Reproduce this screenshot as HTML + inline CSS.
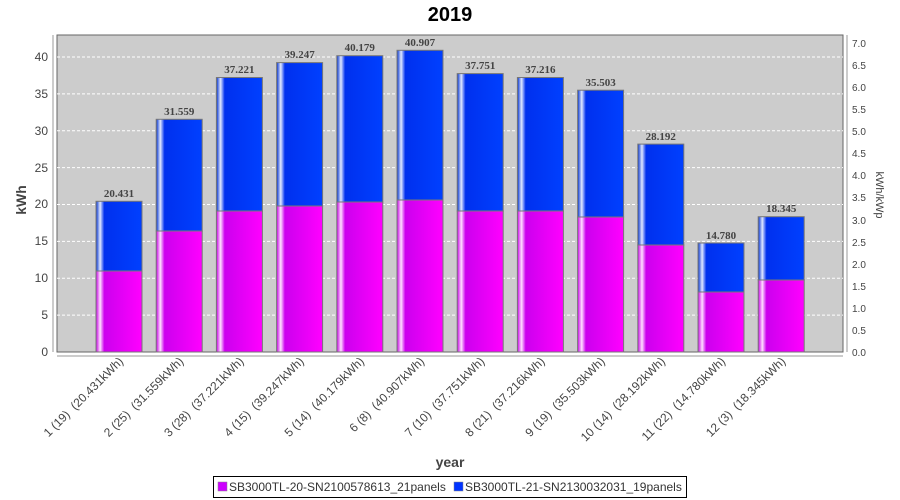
<!DOCTYPE html>
<html><head><style>body{margin:0;background:#fff}svg{display:block;font-family:"Liberation Sans",sans-serif}</style></head><body>
<svg width="900" height="500" xmlns="http://www.w3.org/2000/svg">
<defs>
<linearGradient id="m" x1="0" x2="1" y1="0" y2="0"><stop offset="0" stop-color="#c800e6"/><stop offset="0.09" stop-color="#ffe0ff"/><stop offset="0.18" stop-color="#cc00ee"/><stop offset="1" stop-color="#ff00ff"/></linearGradient>
<linearGradient id="b" x1="0" x2="1" y1="0" y2="0"><stop offset="0" stop-color="#0030d0"/><stop offset="0.09" stop-color="#e0e8ff"/><stop offset="0.18" stop-color="#0030ee"/><stop offset="1" stop-color="#0040ff"/></linearGradient>
</defs>
<text x="450" y="21" text-anchor="middle" font-size="20" font-weight="bold" fill="#000">2019</text>
<rect x="57" y="35" width="786" height="317" fill="#cccccc" stroke="#666" stroke-width="1"/>
<g stroke="#fff" stroke-dasharray="3,2" stroke-width="1">
<line x1="57" x2="843" y1="315.1" y2="315.1"/><line x1="57" x2="843" y1="278.25" y2="278.25"/><line x1="57" x2="843" y1="241.4" y2="241.4"/><line x1="57" x2="843" y1="204.5" y2="204.5"/><line x1="57" x2="843" y1="167.6" y2="167.6"/><line x1="57" x2="843" y1="130.75" y2="130.75"/><line x1="57" x2="843" y1="93.9" y2="93.9"/><line x1="57" x2="843" y1="57" y2="57"/>
</g>
<g stroke="#777" stroke-width="1">
<rect x="96" y="201.3" width="46" height="69.7" fill="url(#b)"/><rect x="96" y="271" width="46" height="81" fill="url(#m)"/>
<rect x="156.2" y="119.3" width="46" height="111.7" fill="url(#b)"/><rect x="156.2" y="231" width="46" height="121" fill="url(#m)"/>
<rect x="216.4" y="77.5" width="46" height="133.5" fill="url(#b)"/><rect x="216.4" y="211" width="46" height="141" fill="url(#m)"/>
<rect x="276.6" y="62.6" width="46" height="143.4" fill="url(#b)"/><rect x="276.6" y="206" width="46" height="146" fill="url(#m)"/>
<rect x="336.8" y="55.7" width="46" height="146.3" fill="url(#b)"/><rect x="336.8" y="202" width="46" height="150" fill="url(#m)"/>
<rect x="397" y="50.3" width="46" height="149.7" fill="url(#b)"/><rect x="397" y="200" width="46" height="152" fill="url(#m)"/>
<rect x="457.2" y="73.6" width="46" height="137.4" fill="url(#b)"/><rect x="457.2" y="211" width="46" height="141" fill="url(#m)"/>
<rect x="517.4" y="77.5" width="46" height="133.5" fill="url(#b)"/><rect x="517.4" y="211" width="46" height="141" fill="url(#m)"/>
<rect x="577.6" y="90.2" width="46" height="126.8" fill="url(#b)"/><rect x="577.6" y="217" width="46" height="135" fill="url(#m)"/>
<rect x="637.8" y="144.1" width="46" height="100.9" fill="url(#b)"/><rect x="637.8" y="245" width="46" height="107" fill="url(#m)"/>
<rect x="698" y="243" width="46" height="49" fill="url(#b)"/><rect x="698" y="292" width="46" height="60" fill="url(#m)"/>
<rect x="758.2" y="216.7" width="46" height="63.3" fill="url(#b)"/><rect x="758.2" y="280" width="46" height="72" fill="url(#m)"/>
</g>
<g font-family="Liberation Serif,serif" font-weight="bold" font-size="11" fill="#444" text-anchor="middle">
<text x="119" y="197">20.431</text><text x="179.2" y="115">31.559</text><text x="239.4" y="73">37.221</text><text x="299.6" y="58">39.247</text><text x="359.8" y="51">40.179</text><text x="420" y="46">40.907</text><text x="480.2" y="69">37.751</text><text x="540.4" y="73">37.216</text><text x="600.6" y="86">35.503</text><text x="660.8" y="140">28.192</text><text x="721" y="239">14.780</text><text x="781.2" y="212">18.345</text>
</g>
<g stroke="#999" stroke-width="1">
<line x1="53" x2="53" y1="35" y2="352"/>
<line x1="57" x2="843" y1="356" y2="356"/>
<line x1="847" x2="847" y1="35" y2="352"/>
</g>
<g font-size="12" fill="#444" text-anchor="end">
<text x="48" y="356">0</text><text x="48" y="319">5</text><text x="48" y="282">10</text><text x="48" y="245">15</text><text x="48" y="208">20</text><text x="48" y="172">25</text><text x="48" y="135">30</text><text x="48" y="98">35</text><text x="48" y="61">40</text>
</g>
<g font-size="10" fill="#444">
<text x="852" y="356">0.0</text><text x="852" y="334">0.5</text><text x="852" y="312">1.0</text><text x="852" y="290">1.5</text><text x="852" y="268">2.0</text><text x="852" y="246">2.5</text><text x="852" y="224">3.0</text><text x="852" y="201">3.5</text><text x="852" y="179">4.0</text><text x="852" y="157">4.5</text><text x="852" y="135">5.0</text><text x="852" y="113">5.5</text><text x="852" y="91">6.0</text><text x="852" y="69">6.5</text><text x="852" y="47">7.0</text>
</g>
<text transform="translate(26,200) rotate(-90)" text-anchor="middle" font-size="14" font-weight="bold" fill="#444">kWh</text>
<text transform="translate(876,195) rotate(90)" text-anchor="middle" font-size="11" fill="#444">kWh/kWp</text>
<g font-size="12" fill="#444" text-anchor="end">
<text transform="translate(124,362) rotate(-45)">1 (19) &#160;(20.431kWh)</text>
<text transform="translate(184.2,362) rotate(-45)">2 (25) &#160;(31.559kWh)</text>
<text transform="translate(244.4,362) rotate(-45)">3 (28) &#160;(37.221kWh)</text>
<text transform="translate(304.6,362) rotate(-45)">4 (15) &#160;(39.247kWh)</text>
<text transform="translate(364.8,362) rotate(-45)">5 (14) &#160;(40.179kWh)</text>
<text transform="translate(425,362) rotate(-45)">6 (8) &#160;(40.907kWh)</text>
<text transform="translate(485.2,362) rotate(-45)">7 (10) &#160;(37.751kWh)</text>
<text transform="translate(545.4,362) rotate(-45)">8 (21) &#160;(37.216kWh)</text>
<text transform="translate(605.6,362) rotate(-45)">9 (19) &#160;(35.503kWh)</text>
<text transform="translate(665.8,362) rotate(-45)">10 (14) &#160;(28.192kWh)</text>
<text transform="translate(726,362) rotate(-45)">11 (22) &#160;(14.780kWh)</text>
<text transform="translate(786.2,362) rotate(-45)">12 (3) &#160;(18.345kWh)</text>
</g>
<text x="450" y="467" text-anchor="middle" font-size="14" font-weight="bold" fill="#444">year</text>
<rect x="213.5" y="476.5" width="473" height="21" fill="#fff" stroke="#000"/>
<rect x="218" y="482" width="9" height="9" fill="#cc00ff" stroke="#888" stroke-width="0.5"/>
<text x="229" y="491" font-size="12" fill="#333">SB3000TL-20-SN2100578613_21panels</text>
<rect x="454" y="482" width="9" height="9" fill="#0033ff" stroke="#888" stroke-width="0.5"/>
<text x="465" y="491" font-size="12" fill="#333">SB3000TL-21-SN2130032031_19panels</text>
</svg>
</body></html>
